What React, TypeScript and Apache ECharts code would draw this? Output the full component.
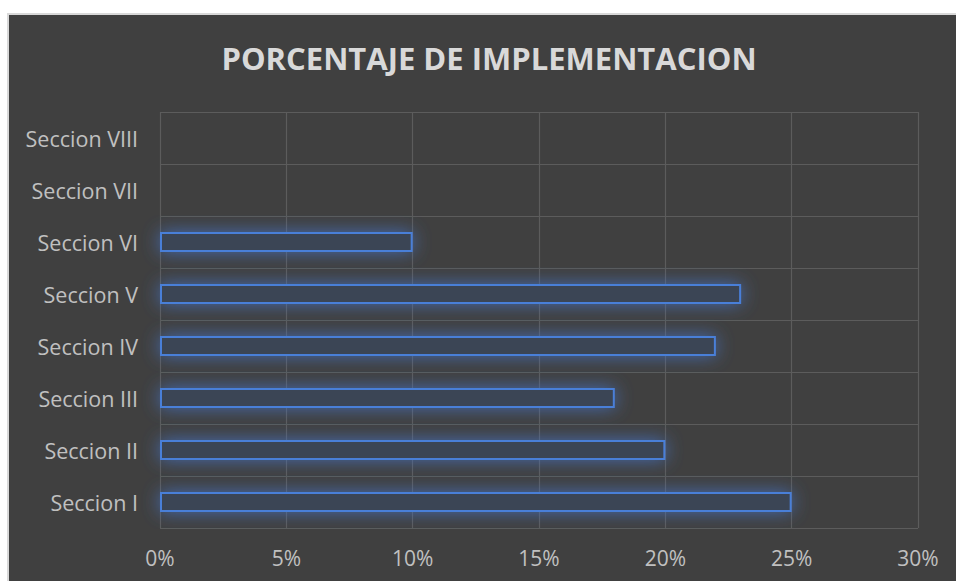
import React, { useEffect, useRef } from "react";
import * as echarts from "echarts";

const titleText = "PORCENTAJE DE IMPLEMENTACION";
const categories = [
  "Seccion I",
  "Seccion II",
  "Seccion III",
  "Seccion IV",
  "Seccion V",
  "Seccion VI",
  "Seccion VII",
  "Seccion VIII",
];
const values: (number | null)[] = [25, 20, 18, 22, 23, 10, null, null];
const axisMin = 0;
const axisMax = 30;
const axisStep = 5;

export default function App() {
  const ref = useRef<HTMLDivElement>(null);

  useEffect(() => {
    if (!ref.current) return;
    const chart = echarts.init(ref.current, undefined, { renderer: "svg" });
    const font = "'Open Sans', 'Noto Sans', sans-serif";
    chart.setOption({
      animation: false,
      backgroundColor: "transparent",
      graphic: [
        {
          type: "text",
          x: 489,
          y: 58,
          style: {
            text: titleText,
            fill: "#d9d9d9",
            font: `bold 31px ${font}`,
            align: "center",
            verticalAlign: "middle",
          },
        },
      ],
      grid: { left: 160, right: 38, top: 112, bottom: 53, containLabel: false },
      xAxis: {
        type: "value",
        min: axisMin,
        max: axisMax,
        interval: axisStep,
        axisLine: { show: false },
        axisTick: { show: false },
        axisLabel: {
          formatter: "{value}%",
          color: "#c0c0c0",
          fontSize: 21,
          fontFamily: font,
          margin: 19,
        },
        splitLine: { show: true, lineStyle: { color: "#5c5c5c", width: 1.2 } },
      },
      yAxis: {
        type: "category",
        data: categories,
        axisLine: { show: false },
        axisTick: { show: false },
        axisLabel: {
          color: "#c0c0c0",
          fontSize: 21.5,
          fontFamily: font,
          margin: 22,
        },
        splitLine: { show: true, lineStyle: { color: "#5c5c5c", width: 1.2 } },
      },
      series: [
        {
          type: "bar",
          data: values,
          barWidth: 20,
          itemStyle: {
            color: "#3b4454",
            borderColor: "#4a7fd8",
            borderWidth: 2,
            shadowBlur: 18,
            shadowColor: "rgba(68,114,196,0.85)",
          },
        },
      ],
    });
    return () => chart.dispose();
  }, []);

  return (
    <div
      style={{
        position: "fixed",
        left: 0,
        top: 0,
        width: 956,
        height: 581,
        overflow: "hidden",
        background: "#ffffff",
      }}
    >
      <div
        style={{
          position: "absolute",
          left: 7,
          top: 13,
          width: 980,
          height: 600,
          background: "#404040",
          borderTop: "2px solid #d9d9d9",
          borderLeft: "2px solid #d9d9d9",
        }}
      />
      <div
        ref={ref}
        style={{ position: "absolute", left: 0, top: 0, width: 956, height: 581 }}
      />
    </div>
  );
}
